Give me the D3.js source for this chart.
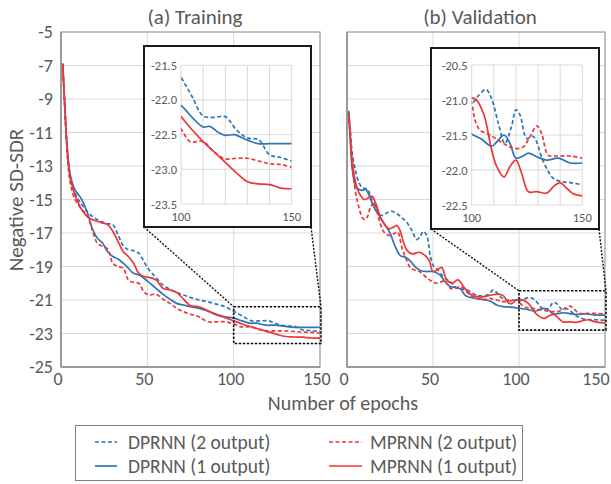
<!DOCTYPE html>
<html>
<head>
<meta charset="utf-8">
<script src="https://cdn.jsdelivr.net/npm/d3@7"></script>
<style>
  body { margin: 0; background: #fff; }
  text { font-family: Carlito, Calibri, "Open Sans", sans-serif; fill: #595959; }
</style>
</head>
<body>
<div id="chart"></div>
<script>
// ---- data: [epoch, negative SD-SDR] ----
const trainDP2 = [[1,-6.9],[2,-9.0],[3,-11.0],[4,-12.5],[5,-13.4],[6,-13.9],[8,-14.6],[10,-15.0],[12,-15.3],[15,-15.7],[18,-16.0],[21,-16.2],[24,-16.35],[27,-16.45],[30,-16.5],[33,-17.1],[36,-17.75],[39,-18.0],[42,-18.05],[45,-18.2],[48,-18.7],[51,-19.2],[55,-19.65],[59,-20.1],[63,-20.35],[67,-20.55],[71,-20.7],[75,-20.85],[80,-21.0],[85,-21.1],[90,-21.25],[95,-21.4],[100,-21.67],[105,-21.95],[110,-22.23],[115,-22.25],[120,-22.24],[125,-22.43],[130,-22.55],[135,-22.57],[140,-22.79],[145,-22.83],[150,-22.88]];
const trainDP1 = [[1,-6.9],[2,-9.0],[3,-11.0],[4,-12.4],[5,-13.3],[6,-13.8],[8,-14.4],[10,-14.7],[12,-15.0],[15,-15.7],[18,-16.7],[21,-17.3],[24,-17.6],[27,-18.1],[30,-18.4],[33,-18.55],[36,-18.8],[39,-19.1],[42,-19.4],[45,-19.5],[48,-19.7],[51,-19.95],[55,-20.3],[59,-20.65],[63,-20.95],[67,-21.2],[71,-21.3],[75,-21.4],[80,-21.5],[85,-21.65],[90,-21.85],[95,-22.0],[100,-22.08],[105,-22.25],[110,-22.39],[113,-22.38],[117,-22.47],[120,-22.51],[124,-22.5],[130,-22.58],[135,-22.63],[140,-22.63],[145,-22.63],[150,-22.63]];
const trainMP2 = [[1,-6.9],[2,-9.1],[3,-11.2],[4,-12.8],[5,-13.8],[6,-14.3],[8,-15.0],[10,-15.3],[12,-15.6],[15,-15.9],[18,-16.8],[21,-17.6],[24,-17.8],[27,-17.95],[30,-18.8],[33,-19.0],[36,-19.1],[39,-19.8],[42,-19.95],[45,-20.0],[48,-20.5],[51,-20.7],[55,-20.65],[59,-20.95],[63,-21.2],[67,-21.5],[71,-21.7],[75,-21.85],[80,-22.0],[85,-22.3],[90,-22.3],[95,-22.3],[100,-22.42],[104,-22.6],[110,-22.6],[115,-22.75],[120,-22.85],[125,-22.84],[130,-22.84],[135,-22.88],[140,-22.92],[145,-22.93],[150,-22.97]];
const trainMP1 = [[1,-6.9],[2,-9.0],[3,-11.1],[4,-12.6],[5,-13.5],[6,-14.0],[8,-14.7],[10,-15.2],[12,-15.6],[15,-16.0],[18,-16.2],[21,-16.3],[24,-16.4],[27,-16.5],[30,-16.9],[33,-17.5],[36,-18.1],[39,-18.4],[42,-18.8],[45,-19.4],[48,-19.6],[51,-19.65],[55,-19.8],[59,-20.3],[63,-20.4],[67,-20.55],[71,-20.95],[75,-21.35],[80,-21.4],[85,-21.65],[90,-21.9],[95,-22.05],[100,-22.24],[105,-22.43],[110,-22.6],[115,-22.75],[120,-22.9],[125,-23.05],[130,-23.18],[135,-23.21],[140,-23.22],[145,-23.27],[150,-23.28]];

const valDP2 = [[1,-9.8],[2,-10.9],[3,-12.2],[5,-13.3],[7,-14.0],[9,-14.3],[12,-14.4],[14,-14.9],[16.5,-15.4],[19,-15.9],[21,-15.95],[23,-15.8],[26,-15.7],[29,-15.85],[32,-16.1],[35,-16.4],[38,-16.9],[40.5,-17.4],[42.5,-17.2],[44.5,-16.9],[46.5,-17.2],[48.5,-18.4],[50.5,-19.0],[52,-19.1],[56,-19.6],[60,-19.9],[64,-20.3],[67,-20.35],[70,-20.4],[75,-20.7],[80,-20.75],[83,-20.6],[85,-20.4],[87,-20.55],[89,-20.8],[93,-21.0],[97,-21.0],[100,-21.05],[102.7,-20.95],[106.4,-20.85],[109,-20.98],[112,-21.33],[115,-21.62],[118,-21.38],[120,-21.14],[121.8,-21.21],[124.9,-21.55],[127.8,-21.52],[132.4,-21.88],[136.9,-22.12],[141.4,-22.17],[144.4,-22.18],[150,-22.21]];
const valDP1 = [[1,-9.7],[2,-11.6],[3,-13.1],[5,-14.2],[7,-14.4],[9,-14.45],[11,-14.4],[13,-14.8],[15,-15.3],[17,-15.7],[19,-16.0],[22,-16.5],[25,-17.0],[28,-17.8],[31,-18.35],[34,-18.45],[37,-18.7],[40,-19.05],[43,-19.25],[46,-19.3],[50,-19.3],[54,-19.5],[57,-19.9],[60,-20.2],[63,-20.25],[66,-20.35],[69,-20.75],[72,-20.85],[75,-20.9],[78,-20.95],[81,-21.0],[84,-21.1],[87,-21.3],[91,-21.4],[95,-21.42],[100,-21.49],[104,-21.55],[109,-21.66],[111.3,-21.6],[114.6,-21.5],[117.3,-21.62],[120,-21.83],[123.3,-21.8],[125.6,-21.76],[129.4,-21.81],[133.9,-21.86],[139.2,-21.83],[144.4,-21.9],[150,-21.9]];
const valMP2 = [[1,-9.9],[2,-11.5],[3,-13.0],[5,-14.6],[7,-15.5],[9,-16.1],[10.5,-16.2],[12,-16.0],[13.5,-15.5],[15.5,-15.2],[17,-15.5],[19.5,-16.5],[22,-17.0],[25,-17.15],[28,-17.0],[29.5,-16.95],[32,-17.9],[35,-18.7],[37,-19.1],[42,-19.3],[48,-19.8],[52,-20.0],[55,-19.9],[57,-19.85],[60,-20.3],[63,-20.3],[66,-20.2],[69,-20.45],[72,-20.75],[76,-20.9],[79,-21.0],[83,-20.9],[87,-21.0],[91,-21.1],[95,-21.05],[98.6,-21.0],[100,-21.05],[101.5,-21.29],[103.8,-21.43],[108.3,-21.5],[114.3,-21.62],[118.8,-21.69],[123.3,-21.67],[126.4,-21.52],[129.4,-21.37],[131.6,-21.48],[134.6,-21.79],[138.4,-21.8],[144.4,-21.8],[150,-21.83]];
const valMP1 = [[1,-9.9],[2,-11.3],[3,-12.6],[5,-14.0],[7,-14.6],[10,-15.0],[12.5,-14.9],[14.5,-14.8],[17,-15.3],[19.5,-16.1],[22,-16.5],[24.5,-16.75],[27,-16.65],[29,-16.55],[31,-16.9],[33,-17.6],[35,-18.05],[38,-18.25],[42,-18.15],[46,-18.4],[48,-18.7],[50,-19.3],[52.5,-19.2],[55,-19.05],[58,-19.8],[61,-20.0],[64.5,-19.8],[68.5,-20.3],[72.5,-20.7],[76,-20.8],[80,-20.8],[84,-20.7],[88,-20.65],[91,-20.75],[94,-21.2],[96,-21.2],[98.5,-21.0],[101.5,-20.98],[105.3,-21.19],[109,-21.71],[111.3,-21.95],[114.6,-22.1],[117.3,-21.95],[120,-21.86],[122.6,-22.05],[125.6,-22.31],[129.4,-22.31],[133.9,-22.33],[136.9,-22.24],[139.9,-22.18],[142.9,-22.26],[145.9,-22.34],[150,-22.37]];

const seriesNames = ["DPRNN (2 output)", "DPRNN (1 output)", "MPRNN (2 output)", "MPRNN (1 output)"];
const seriesColors = ["#2E75B6", "#2E75B6", "#F03535", "#F03535"];
const seriesDashed = [true, false, true, false];

const mainYTicks = [-5, -7, -9, -11, -13, -15, -17, -19, -21, -23, -25];
const mainXTicks = [0, 50, 100, 150];
const trainInsetYTicks = [-21.5, -22.0, -22.5, -23.0, -23.5];
const valInsetYTicks = [-20.5, -21.0, -21.5, -22.0, -22.5];
const insetXTicks = [100, 110, 120, 130, 140, 150];
const insetXLabels = [100, 150];
const trainZoomY = [-21.4, -23.6];
const valZoomY = [-20.45, -22.8];

// ---- layout ----
const W = 611, H = 484;
const svg = d3.select("#chart").append("svg").attr("width", W).attr("height", H);

const y = d3.scaleLinear().domain([-25, -5]).range([367, 32]);
const xTrain = d3.scaleLinear().domain([0, 150]).range([61, 320]);
const xVal = d3.scaleLinear().domain([0, 150]).range([347, 605]);

const dash = "4,2.5";

function drawLines(g, data, x, yS, clipId, width) {
    let line = d3.line().x(d => x(d[0])).y(d => yS(d[1])).curve(d3.curveCatmullRom.alpha(0.5));
    let grp = g.append("g").attr("clip-path", "url(#" + clipId + ")");
    data.forEach((s, i) => {
        grp.append("path")
            .attr("d", line(s))
            .attr("fill", "none")
            .attr("stroke", seriesColors[i])
            .attr("stroke-width", width)
            .attr("stroke-dasharray", seriesDashed[i] ? dash : null);
    });
}

function drawPanel(x, data, id, showY, title, titleX) {
    let g = svg.append("g");
    let [x0, x1] = x.range();
    // grid
    g.selectAll(".hg").data(mainYTicks).join("line")
        .attr("x1", x0).attr("x2", x1).attr("y1", d => y(d)).attr("y2", d => y(d))
        .attr("stroke", "#d9d9d9").attr("stroke-width", 1);
    g.selectAll(".vg").data(mainXTicks).join("line")
        .attr("y1", y(-25)).attr("y2", y(-5)).attr("x1", d => x(d)).attr("x2", d => x(d))
        .attr("stroke", "#d9d9d9").attr("stroke-width", 1);
    g.append("rect").attr("x", x0).attr("y", y(-5)).attr("width", x1 - x0).attr("height", y(-25) - y(-5))
        .attr("fill", "none").attr("stroke", "#a6a6a6").attr("stroke-width", 1.2);
    g.append("line").attr("x1", x0).attr("x2", x0).attr("y1", y(-5)).attr("y2", y(-25))
        .attr("stroke", "#8c8c8c").attr("stroke-width", 1.5);
    g.append("line").attr("x1", x0).attr("x2", x1).attr("y1", y(-25)).attr("y2", y(-25))
        .attr("stroke", "#8c8c8c").attr("stroke-width", 1.5);

    svg.append("clipPath").attr("id", id).append("rect")
        .attr("x", x0).attr("y", y(-5)).attr("width", x1 - x0).attr("height", y(-25) - y(-5));
    drawLines(g, data, x, y, id, 1.7);

    if (showY) {
        g.selectAll(".yl").data(mainYTicks).join("text")
            .attr("x", x0 - 8).attr("y", d => y(d)).attr("dy", "0.36em")
            .attr("text-anchor", "end").style("font-size", "18px").text(d => d);
    }
    g.selectAll(".xl").data(mainXTicks).join("text")
        .attr("x", d => Math.min(x(d) - 3, W - 15)).attr("y", 385)
        .attr("text-anchor", "middle").style("font-size", "18px").text(d => d);
    g.append("text").attr("x", titleX).attr("y", 24)
        .attr("text-anchor", "middle").style("font-size", "21px").text(title);
    return g;
}

function drawInset(g, data, x, zoomY, box, plotX, yDom, yRange, yTicks, id) {
    let xi = d3.scaleLinear().domain([100, 150]).range(plotX);
    let yi = d3.scaleLinear().domain(yDom).range(yRange);
    // zoom rectangle on the main plot
    let zx0 = x(100), zx1 = x(150) + 1;
    let zy0 = y(zoomY[0]), zy1 = y(zoomY[1]);
    g.append("rect").attr("x", zx0).attr("y", zy0).attr("width", zx1 - zx0).attr("height", zy1 - zy0)
        .attr("fill", "none").attr("stroke", "#111").attr("stroke-width", 1.6).attr("stroke-dasharray", "2.5,1.5");
    g.append("line").attr("x1", box.x).attr("y1", box.y + box.h).attr("x2", zx0).attr("y2", zy0)
        .attr("stroke", "#111").attr("stroke-width", 1.4).attr("stroke-dasharray", "2,1.5");
    g.append("line").attr("x1", box.x + box.w).attr("y1", box.y + box.h).attr("x2", zx1).attr("y2", zy0)
        .attr("stroke", "#111").attr("stroke-width", 1.4).attr("stroke-dasharray", "2,1.5");

    g.append("rect").attr("x", box.x).attr("y", box.y).attr("width", box.w).attr("height", box.h)
        .attr("fill", "#fff").attr("stroke", "#1a1a1a").attr("stroke-width", 2);
    g.selectAll(".ihg").data(yTicks).join("line")
        .attr("x1", plotX[0]).attr("x2", plotX[1]).attr("y1", d => yi(d)).attr("y2", d => yi(d))
        .attr("stroke", "#d9d9d9").attr("stroke-width", 1);
    g.selectAll(".ivg").data(insetXTicks).join("line")
        .attr("x1", d => xi(d)).attr("x2", d => xi(d)).attr("y1", yRange[0]).attr("y2", yRange[1])
        .attr("stroke", "#d9d9d9").attr("stroke-width", 1);
    g.selectAll(".iyl").data(yTicks).join("text")
        .attr("x", plotX[0] - 4).attr("y", d => yi(d)).attr("dy", "0.36em")
        .attr("text-anchor", "end").style("font-size", "12.5px").text(d => d.toFixed(1));
    g.selectAll(".ixl").data(insetXLabels).join("text")
        .attr("x", d => xi(d)).attr("y", yRange[0] + 17)
        .attr("text-anchor", "middle").style("font-size", "12.5px").text(d => d);

    svg.append("clipPath").attr("id", id).append("rect")
        .attr("x", plotX[0]).attr("y", yRange[1]).attr("width", plotX[1] - plotX[0]).attr("height", yRange[0] - yRange[1]);
    drawLines(g, data, xi, yi, id, 1.7);
}

let gT = drawPanel(xTrain, [trainDP2, trainDP1, trainMP2, trainMP1], "clipT", true, "(a) Training", 195);
let gV = drawPanel(xVal, [valDP2, valDP1, valMP2, valMP1], "clipV", false, "(b) Validation", 480);

drawInset(gT, [trainDP2, trainDP1, trainMP2, trainMP1], xTrain, trainZoomY,
    { x: 144, y: 46, w: 167, h: 181 }, [181, 291.7], [-23.5, -21.5], [204, 65.3], trainInsetYTicks, "clipTi");
drawInset(gV, [valDP2, valDP1, valMP2, valMP1], xVal, valZoomY,
    { x: 431, y: 48, w: 168, h: 181 }, [471.7, 582.3], [-22.5, -20.5], [205, 65], valInsetYTicks, "clipVi");

// axis titles
svg.append("text").attr("x", 343).attr("y", 410).attr("text-anchor", "middle")
    .style("font-size", "20px").text("Number of epochs");
svg.append("text").attr("transform", "translate(23,200) rotate(-90)").attr("text-anchor", "middle")
    .style("font-size", "21px").text("Negative SD-SDR");

// legend
let leg = svg.append("g");
leg.append("rect").attr("x", 75.5).attr("y", 425.5).attr("width", 447).attr("height", 55)
    .attr("fill", "#fff").attr("stroke", "#7f7f7f").attr("stroke-width", 1);
const legPos = [[95, 442], [95, 466], [329, 442], [329, 466]];
const legLen = [22, 22, 33, 33];
const legTextX = [128, 128, 370, 370];
seriesNames.forEach((n, i) => {
    let [lx, ly] = legPos[i];
    leg.append("line").attr("x1", lx).attr("x2", lx + legLen[i]).attr("y1", ly).attr("y2", ly)
        .attr("stroke", seriesColors[i]).attr("stroke-width", 1.7)
        .attr("stroke-dasharray", seriesDashed[i] ? "4,2.5" : null);
    leg.append("text").attr("x", legTextX[i]).attr("y", ly).attr("dy", "0.36em")
        .style("font-size", "19.5px").text(n);
});
</script>
</body>
</html>
